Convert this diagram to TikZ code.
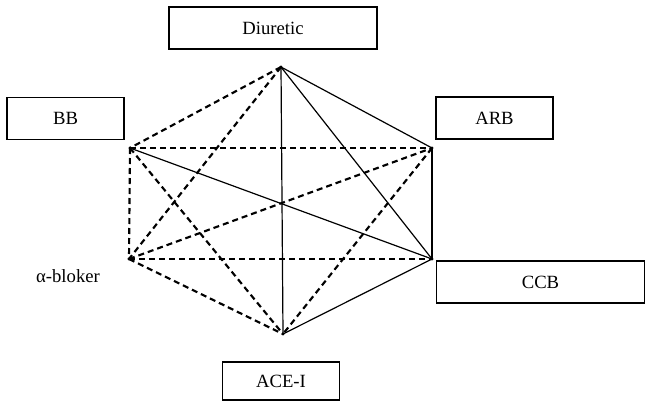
\documentclass[tikz,border=0pt]{standalone}
\usepackage{fontspec}
\setmainfont{Liberation Serif}
\begin{document}
\begin{tikzpicture}[
    x=0.75pt, y=-0.75pt,
    font=\fontsize{14}{16}\selectfont,
    drugbox/.style={draw, rectangle, line width=0.9pt, minimum height=31.5pt, minimum width=87.75pt, inner sep=0pt},
    widebox/.style={drugbox, minimum width=156pt},
    corner/.style={circle, fill, inner sep=0pt, minimum size=2.5pt},
    firm/.style={line width=0.9pt},
    weak/.style={line width=1.6pt, dash pattern=on 4.5pt off 3pt}
  ]
    \useasboundingbox (0,0) rectangle (645,407);

    % Blocks
    \node[widebox] at (273,28)    (diuretic) {Diuretic};
    \node[drugbox] at (65.5,118.5) (bb)      {BB};
    \node[drugbox] at (494.5,118) (arb)      {ARB};
    \node[widebox] at (540.5,282) (ccb)      {CCB};
    \node[drugbox, minimum height=28.5pt] at (281,381) (acei) {ACE-I};
    \node at (68,276) (alpha) {α-bloker};

    % Corners of the hexagon
    \node[corner] at (281,67)  (pD) {};
    \node[corner] at (130,148) (pB) {};
    \node[corner] at (432,148) (pR) {};
    \node[corner] at (129,259) (pA) {};
    \node[corner] at (432,259) (pC) {};
    \node[corner] at (283,334) (pE) {};

    % Dashed connections
    \draw[weak] (pD.center) -- (pB.center);
    \draw[weak] (pD.center) -- (pA.center);
    \draw[weak] (pB.center) -- (pR.center);
    \draw[weak] (pB.center) -- (pA.center);
    \draw[weak] (pB.center) -- (pE.center);
    \draw[weak] (pA.center) -- (pR.center);
    \draw[weak] (pA.center) -- (pC.center);
    \draw[weak] (pA.center) -- (pE.center);
    \draw[weak] (pR.center) -- (pE.center);

    % Solid connections
    \draw[firm] (pD.center) -- (pR.center);
    \draw[firm] (pD.center) -- (pC.center);
    \draw[firm] (pD.center) -- (pE.center);
    \draw[firm] (pB.center) -- (pC.center);
    \draw[firm] (pR.center) -- (pC.center);
    \draw[firm] (pC.center) -- (pE.center);

  \end{tikzpicture}
\end{document}
